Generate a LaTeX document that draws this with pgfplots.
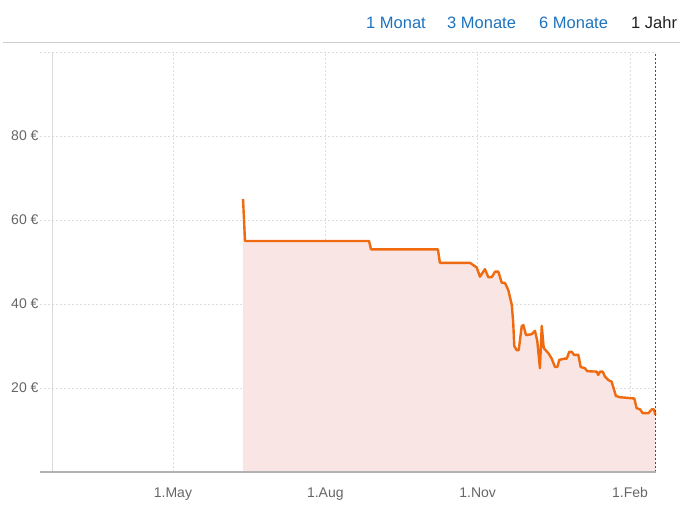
\documentclass[border=0pt]{standalone}
\usepackage{pgfplots}
\pgfplotsset{compat=1.18}
\usepackage{fontspec}
\setmainfont{Liberation Sans}

\definecolor{priceline}{HTML}{F06A10}
\definecolor{pricefill}{HTML}{F9E6E4}
\definecolor{linkblue}{HTML}{1E73BE}
\definecolor{ticktext}{HTML}{666666}
\definecolor{gridgrey}{HTML}{DDDDDD}

% days since 1.May
\pgfplotstableread{
day   price
42.3  65
43.5  55
118.4 55
119.6 53
160.0 53
161.2 49.8
179.4 49.8
183.4 48.7
185.4 46.5
188.4 48.3
190.4 46.4
192.5 46.4
194.5 47.7
196.5 47.7
198.5 45.1
200.5 45
202.5 43.3
204.6 39.8
205.5 35.4
206.1 30
207.6 29
208.8 29
210.6 34.7
211.6 35
213.2 32.6
216.6 32.8
218.6 33.6
220.0 31.2
221.6 24.7
222.7 34.8
223.9 29.5
226.7 28.3
228.7 27
230.7 25
232.1 25
233.3 26.7
236.7 27
237.8 27
239.3 28.6
240.8 28.6
242.2 27.9
244.8 27.9
246.2 25
248.8 24.7
250.2 24
255.9 23.9
256.8 23.1
257.9 23.9
259.5 23.9
260.9 22.7
262.9 21.9
264.9 21.5
267.5 18.1
269.9 17.8
273.0 17.7
278.6 17.5
280.0 15.2
282.1 14.9
283.7 14
287.1 14
289.1 14.9
290.5 14.9
291.3 13.6
}\prices

\begin{document}
\begin{tikzpicture}[x=1pt,y=1pt]
\useasboundingbox (0,0) rectangle (688,506);
% range links
\begin{scope}[font=\fontsize{16.5}{18}\selectfont]
\node[anchor=base west, inner sep=0, text=linkblue] at (366,477.5) {1 Monat};
\node[anchor=base west, inner sep=0, text=linkblue] at (447,477.5) {3 Monate};
\node[anchor=base west, inner sep=0, text=linkblue] at (539,477.5) {6 Monate};
\node[anchor=base west, inner sep=0, text=black!87] at (631,477.5) {1 Jahr};
\end{scope}
\draw[black!20, line width=1pt] (3,463) -- (680,463);

\begin{axis}[
    at={(40pt,34pt)}, anchor=south west,
    scale only axis, width=616pt, height=420pt,
    xmin=-80.3, xmax=291.7, ymin=0, ymax=100,
    axis line style={draw=none},
    xtick={0,92,184,276},
    xticklabels={1.May,1.Aug,1.Nov,1.Feb},
    ytick={20,40,60,80,100},
    yticklabels={20 €,40 €,60 €,80 €,},
    major tick length=0pt,
    grid=major,
    major grid style={gridgrey, dash pattern=on 2pt off 2pt, line width=0.9pt},
    tick label style={font=\fontsize{14}{16}\selectfont, text=ticktext},
    yticklabel style={anchor=east, xshift=2pt},
    xticklabel style={anchor=base, yshift=-25.5pt},
    clip=false,
]
\addplot[fill=pricefill, draw=none] table[x=day, y=price] {\prices} \closedcycle;
\addplot[priceline, line width=2.4pt, line join=round] table[x=day, y=price] {\prices};
\draw[black!15, line width=1pt] (axis cs:-72.5,0) -- (axis cs:-72.5,100);
\draw[black!70, dash pattern=on 2pt off 2pt, line width=0.9pt] (axis cs:291.1,0) -- (axis cs:291.1,100);
\draw[black!30, line width=2pt] (axis cs:-80.3,0) -- (axis cs:291.7,0);
\end{axis}
\end{tikzpicture}
\end{document}
